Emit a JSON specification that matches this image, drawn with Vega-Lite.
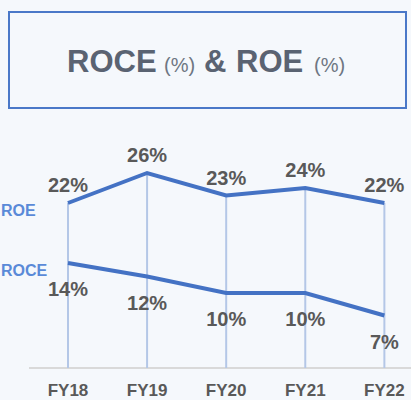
{
  "$schema": "https://vega.github.io/schema/vega-lite/v6.json",
  "background": "#f5f8fc",
  "padding": {"left": 0, "top": 11, "right": 0, "bottom": 30},
  "spacing": 34,
  "config": {"view": {"stroke": null}, "font": "Liberation Sans"},
  "vconcat": [
    {
      "width": 397,
      "height": 96,
      "view": {"stroke": "#4a78c8", "strokeWidth": 2, "fill": "#f5f8fc"},
      "data": {"values": [{"piece": "title"}]},
      "layer": [
        {"mark": {"type": "text", "text": "ROCE", "font": "Liberation Sans", "fontWeight": "bold", "fontSize": 31, "align": "left", "baseline": "alphabetic", "dx": -140.5, "dy": 12, "color": "#5a6372"}},
        {"mark": {"type": "text", "text": "(%)", "font": "Liberation Sans", "fontWeight": "normal", "fontSize": 20, "align": "left", "baseline": "alphabetic", "dx": -43.5, "dy": 12, "color": "#6e7682"}},
        {"mark": {"type": "text", "text": "&", "font": "Liberation Sans", "fontWeight": "bold", "fontSize": 31, "align": "left", "baseline": "alphabetic", "dx": -3.5, "dy": 12, "color": "#5a6372"}},
        {"mark": {"type": "text", "text": "ROE", "font": "Liberation Sans", "fontWeight": "bold", "fontSize": 31, "align": "left", "baseline": "alphabetic", "dx": 28.5, "dy": 12, "color": "#5a6372"}},
        {"mark": {"type": "text", "text": "(%)", "font": "Liberation Sans", "fontWeight": "normal", "fontSize": 20, "align": "left", "baseline": "alphabetic", "dx": 106.5, "dy": 12, "color": "#6e7682"}}
      ]
    },
    {
      "width": 403,
      "height": 225,
      "data": {
        "values": [
          {"year": "FY18", "metric": "ROE", "value": 22, "label": "22%"},
          {"year": "FY19", "metric": "ROE", "value": 26, "label": "26%"},
          {"year": "FY20", "metric": "ROE", "value": 23, "label": "23%"},
          {"year": "FY21", "metric": "ROE", "value": 24, "label": "24%"},
          {"year": "FY22", "metric": "ROE", "value": 22, "label": "22%"},
          {"year": "FY18", "metric": "ROCE", "value": 14, "label": "14%"},
          {"year": "FY19", "metric": "ROCE", "value": 12.2, "label": "12%"},
          {"year": "FY20", "metric": "ROCE", "value": 10, "label": "10%"},
          {"year": "FY21", "metric": "ROCE", "value": 10, "label": "10%"},
          {"year": "FY22", "metric": "ROCE", "value": 7, "label": "7%"}
        ]
      },
      "encoding": {
        "x": {
          "field": "year",
          "type": "ordinal",
          "scale": {"type": "point", "padding": 0.5474, "align": 0.681},
          "axis": {
            "title": null,
            "labelAngle": 0,
            "domainColor": "#d9d9d9",
            "domainWidth": 2,
            "ticks": false,
            "tickSize": 0,
            "grid": false,
            "translate": 20,
            "offset": -20,
            "labelOffset": -20,
            "labelFont": "Liberation Sans",
            "labelFontWeight": "bold",
            "labelFontSize": 17,
            "labelColor": "#595959",
            "labelBaseline": "alphabetic",
            "labelPadding": 28
          }
        },
        "y": {
          "field": "value",
          "type": "quantitative",
          "scale": {"domain": [0, 30], "nice": false},
          "axis": null
        }
      },
      "layer": [
        {
          "transform": [{"filter": "datum.metric === 'ROE'"}],
          "mark": {"type": "rule", "color": "#b4c7e7", "strokeWidth": 2},
          "encoding": {"y2": {"datum": 0}}
        },
        {
          "mark": {"type": "line", "color": "#4472c4", "strokeWidth": 4},
          "encoding": {"detail": {"field": "metric"}}
        },
        {
          "transform": [{"filter": "datum.metric === 'ROE'"}],
          "mark": {"type": "text", "font": "Liberation Sans", "fontWeight": "bold", "fontSize": 20, "color": "#595959", "baseline": "alphabetic", "dy": -11},
          "encoding": {"text": {"field": "label"}}
        },
        {
          "transform": [{"filter": "datum.metric === 'ROCE'"}],
          "mark": {"type": "text", "font": "Liberation Sans", "fontWeight": "bold", "fontSize": 20, "color": "#595959", "baseline": "alphabetic", "dy": 33},
          "encoding": {"text": {"field": "label"}}
        },
        {
          "transform": [{"filter": "datum.year === 'FY18'"}],
          "mark": {"type": "text", "font": "Liberation Sans", "fontWeight": "bold", "fontSize": 16, "color": "#5a8ad8", "align": "left", "baseline": "alphabetic", "dx": -67, "dy": 12.5},
          "encoding": {"text": {"field": "metric"}}
        }
      ]
    }
  ]
}
